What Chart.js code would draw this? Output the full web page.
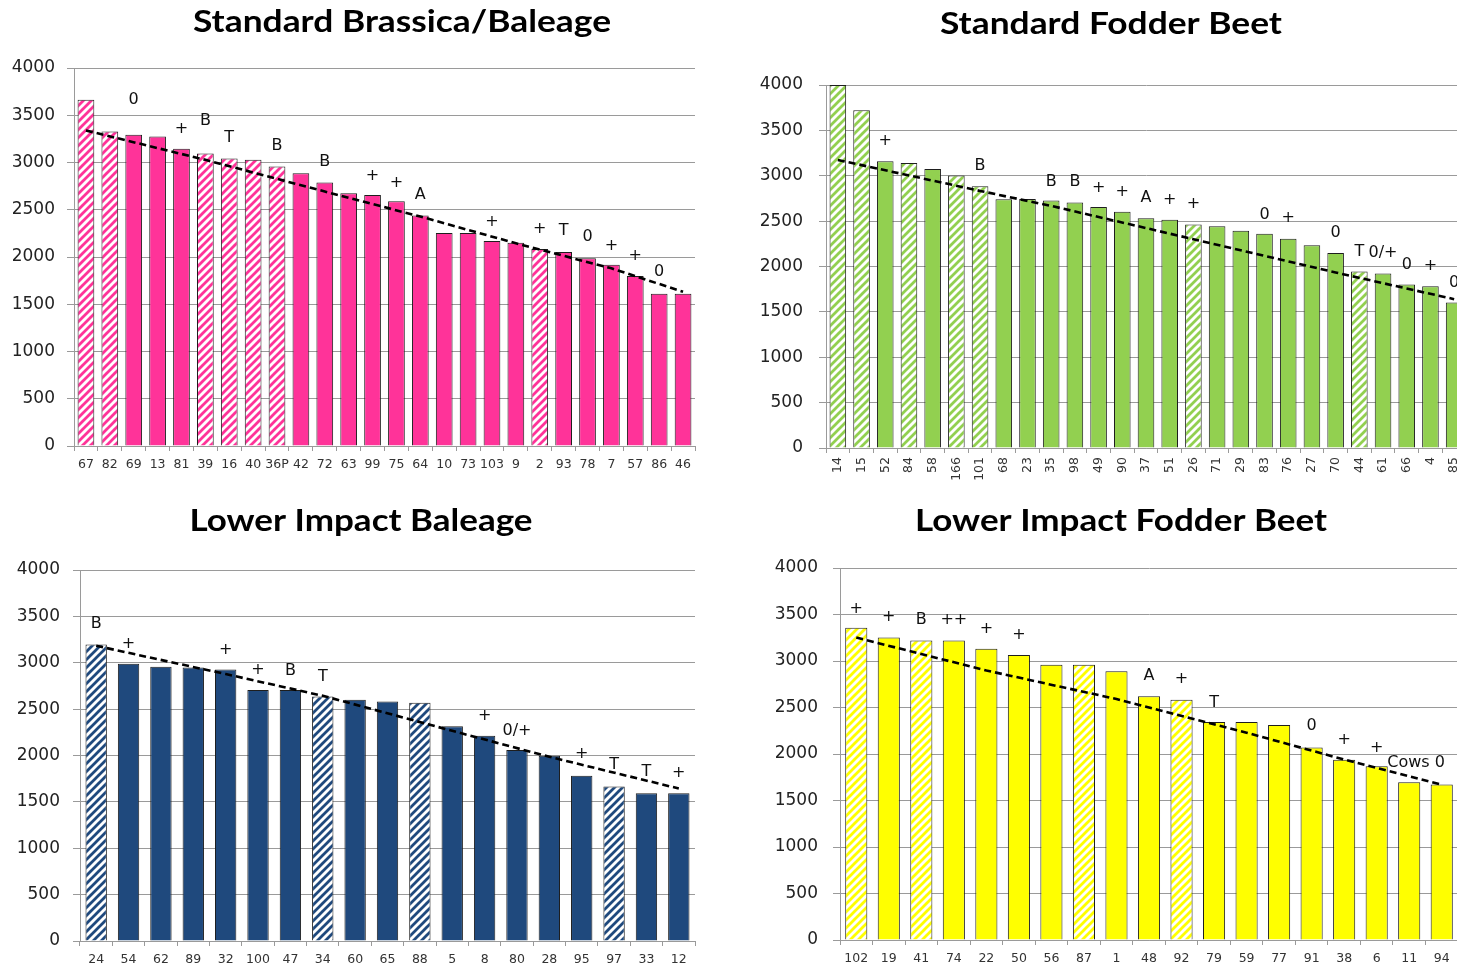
<!DOCTYPE html>
<html><head><meta charset="utf-8">
<script src="https://cdn.jsdelivr.net/npm/chart.js@4.4.1/dist/chart.umd.min.js"></script>
<style>
html,body{margin:0;padding:0;background:#fff;overflow:hidden;width:1457px;height:971px;position:relative;}
canvas{position:absolute;}
</style></head><body>
<canvas id="c1" width="710" height="480" style="left:0;top:0"></canvas>
<canvas id="c2" width="740" height="490" style="left:740px;top:0"></canvas>
<canvas id="c3" width="710" height="481" style="left:0;top:490px"></canvas>
<canvas id="c4" width="740" height="481" style="left:740px;top:490px"></canvas>
<script>
// ---------- Standard Brassica/Baleage ----------
const brassicaLabels = ['67','82','69','13','81','39','16','40','36P','42','72','63','99','75','64','10','73','103','9','2','93','78','7','57','86','46'];
const brassicaValues = [3664,3328,3293,3275,3145,3095,3042,3028,2957,2887,2788,2675,2657,2590,2438,2254,2254,2170,2152,2085,2053,1986,1918,1799,1611,1611];
const brassicaHatched = ['67','82','39','16','40','36P','2'];
const brassicaTrendAt = ['67','39','72','64','9','7','46'];
const brassicaTrendValues = [3339,3028,2693,2428,2145,1880,1632];
const brassicaNoteAt = ['69','81','39','16','36P','72','99','75','64','103','2','93','78','7','57','86'];
const brassicaNoteText = ['0','+','B','T','B','B','+','+','A','+','+','T','0','+','+','0'];
const brassicaNoteValues = [3665,3357,3440,3264,3176,3010,2858,2788,2657,2368,2297,2279,2209,2117,2011,1838];

// ---------- Standard Fodder Beet ----------
const beetLabels = ['14','15','52','84','58','166','101','68','23','35','98','49','90','37','51','26','71','29','83','76','27','70','44','61','66','4','85'];
const beetValues = [4000,3721,3160,3141,3075,3002,2884,2741,2745,2727,2705,2657,2602,2532,2514,2462,2444,2393,2360,2305,2235,2150,1945,1923,1802,1783,1604];
const beetHatched = ['14','15','84','166','101','26','44'];
const beetTrendAt = ['14','101','35','26','70','85'];
const beetTrendValues = [3174,2833,2668,2301,1934,1640];
const beetNoteAt = ['52','101','35','98','49','90','37','51','26','83','76','70','44','61','66','4','85'];
const beetNoteText = ['+','B','B','B','+','+','A','+','+','0','+','0','T','0/+','0','+','0'];
const beetNoteValues = [3383,3108,2936,2936,2862,2826,2760,2734,2686,2569,2532,2374,2165,2150,2018,2007,1824];

// ---------- Lower Impact Baleage ----------
const lowBaleLabels = ['24','54','62','89','32','100','47','34','60','65','88','5','8','80','28','95','97','33','12'];
const lowBaleValues = [3198,2989,2957,2950,2928,2705,2705,2637,2601,2583,2568,2316,2212,2058,1996,1781,1665,1593,1593];
const lowBaleHatched = ['24','34','88','97'];
const lowBaleTrendAt = ['24','32','34','5','28','12'];
const lowBaleTrendValues = [3183,2878,2644,2266,1986,1644];
const lowBaleNoteAt = ['24','54','32','100','47','34','8','80','95','97','33','12'];
const lowBaleNoteText = ['B','+','+','+','B','T','+','0/+','+','T','T','+'];
const lowBaleNoteValues = [3417,3209,3137,2921,2914,2852,2428,2266,2014,1899,1827,1816];

// ---------- Lower Impact Fodder Beet ----------
const lowBeetLabels = ['102','19','41','74','22','50','56','87','1','48','92','79','59','77','91','38','6','11','94'];
const lowBeetValues = [3357,3252,3220,3220,3133,3064,2959,2959,2891,2620,2584,2345,2345,2313,2070,1937,1868,1695,1673];
const lowBeetHatched = ['102','41','87','92'];
const lowBeetTrendAt = ['102','22','1','59','38','94'];
const lowBeetTrendValues = [3252,2898,2591,2229,1940,1669];
const lowBeetNoteAt = ['102','19','41','74','22','50','48','92','79','91','38','6','11'];
const lowBeetNoteText = ['+','+','B','++','+','+','A','+','T','0','+','+','Cows 0'];
const lowBeetNoteValues = [3559,3476,3440,3440,3342,3285,2837,2808,2555,2302,2150,2067,1904];

const yTicks = {min:0, max:4000, step:500};

// ---------- helpers ----------
function hatch(color){
  const s=8, c=document.createElement('canvas'); c.width=s; c.height=s;
  const g=c.getContext('2d');
  g.fillStyle='#fff'; g.fillRect(0,0,s,s);
  g.strokeStyle=color; g.lineWidth=2.8; g.lineCap='square';
  g.beginPath();
  g.moveTo(-2,s+2); g.lineTo(s+2,-2);
  g.moveTo(-2,2); g.lineTo(2,-2);
  g.moveTo(s-2,s+2); g.lineTo(s+2,s-2);
  g.stroke();
  return g.createPattern(c,'repeat');
}

const notePlugin = {
  id:'notes',
  afterDatasetsDraw(chart){
    const o = chart.options.plugins.notes; if(!o) return;
    const {ctx} = chart, xs = chart.scales.x, ys = chart.scales.y;
    ctx.save();
    ctx.fillStyle='#111'; ctx.font = o.font; ctx.textBaseline='middle';
    o.at.forEach((lab,i)=>{
      const idx = chart.data.labels.indexOf(lab);
      const x = xs.getPixelForValue(idx);
      const y = ys.getPixelForValue(o.values[i]);
      const st = (o.style||{})[o.text[i]] || {};
      ctx.textAlign = st.align || 'center';
      ctx.fillText(o.text[i], x + (st.dx||0), y);
    });
    ctx.restore();
  }
};

const titlePlugin = {
  id:'fittedTitle',
  afterDraw(chart){
    const o = chart.options.plugins.fittedTitle; if(!o) return;
    const ctx = chart.ctx;
    ctx.save();
    ctx.font = o.font; ctx.fillStyle='#000';
    ctx.textAlign='center'; ctx.textBaseline='middle';
    const w = ctx.measureText(o.text).width;
    ctx.translate(o.cx, o.cy);
    ctx.scale(o.width / w, 1);
    ctx.fillText(o.text, 0, 0);
    ctx.restore();
  }
};

function makeChart(id, d, L){
  const ctx = document.getElementById(id).getContext('2d');
  const solid = d.color, pat = hatch(d.color);
  const bg = d.labels.map(l => d.hatched.includes(l) ? pat : solid);
  const trend = d.labels.map(l => { const k = d.trendAt.indexOf(l); return k<0 ? null : d.trendValues[k]; });
  return new Chart(ctx, {
    type:'bar',
    data:{labels:d.labels, datasets:[
      {type:'line', data:trend, borderColor:'#000', borderWidth:2.6, borderDash:[7,4], pointRadius:0, spanGaps:true, fill:false, tension:0, order:0},
      {type:'bar', data:d.values, backgroundColor:bg, borderColor:'#1e1e1e', borderWidth:1, barPercentage:L.bar, categoryPercentage:1, order:1}
    ]},
    options:{
      responsive:false, animation:false, events:[],
      layout:{padding:{top:L.padTop, right:L.padRight, left:0, bottom:0}},
      plugins:{
        legend:{display:false}, tooltip:{enabled:false}, title:{display:false},
        notes:{at:d.noteAt, text:d.noteText, values:d.noteValues, font:'16px "DejaVu Sans"', style:{'Cows 0':{align:'left', dx:-22}}},
        fittedTitle:{text:d.title, font:'bold 31px Lato', cx:L.titleX, cy:L.titleY, width:L.titleW}
      },
      scales:{
        x:{
          grid:{display:true, drawOnChartArea:false, drawTicks:true, tickLength:5, color:'#9a9a9a', offset:true},
          border:{color:'#9a9a9a'},
          ticks:{autoSkip:false, maxRotation:L.rot, minRotation:L.rot, font:{family:'DejaVu Sans', size:12.5}, color:'#333', padding:L.xPad},
          afterFit(s){ s.height = L.xH; }
        },
        y:{
          min:yTicks.min, max:yTicks.max,
          ticks:{stepSize:yTicks.step, font:{family:'DejaVu Sans', size:17}, color:'#222', padding:L.yPad,
                 callback:(v)=>String(v)},
          grid:{color:'#9a9a9a', tickLength:7, lineWidth:1},
          border:{color:'#9a9a9a'},
          afterFit(s){ s.width = L.yW; }
        }
      }
    },
    plugins:[notePlugin, titlePlugin]
  });
}

const pink='#FF3399', green='#92D050', navy='#1F497D', yellow='#FFFF00';

makeChart('c1', {title:'Standard Brassica/Baleage', color:pink, labels:brassicaLabels, values:brassicaValues, hatched:brassicaHatched,
  trendAt:brassicaTrendAt, trendValues:brassicaTrendValues, noteAt:brassicaNoteAt, noteText:brassicaNoteText, noteValues:brassicaNoteValues},
  {padTop:68, padRight:15, yW:74, xH:34, yPad:12, xPad:6, rot:0, bar:0.7, titleX:402, titleY:22, titleW:418});

makeChart('c2', {title:'Standard Fodder Beet', color:green, labels:beetLabels, values:beetValues, hatched:beetHatched,
  trendAt:beetTrendAt, trendValues:beetTrendValues, noteAt:beetNoteAt, noteText:beetNoteText, noteValues:beetNoteValues},
  {padTop:85, padRight:14, yW:86, xH:42, yPad:16, xPad:4, rot:90, bar:0.7, titleX:1111-740, titleY:24, titleW:342});

makeChart('c3', {title:'Lower Impact Baleage', color:navy, labels:lowBaleLabels, values:lowBaleValues, hatched:lowBaleHatched,
  trendAt:lowBaleTrendAt, trendValues:lowBaleTrendValues, noteAt:lowBaleNoteAt, noteText:lowBaleNoteText, noteValues:lowBaleNoteValues},
  {padTop:80, padRight:15, yW:80, xH:30, yPad:13, xPad:6, rot:0, bar:0.66, titleX:361, titleY:31, titleW:343});

makeChart('c4', {title:'Lower Impact Fodder Beet', color:yellow, labels:lowBeetLabels, values:lowBeetValues, hatched:lowBeetHatched,
  trendAt:lowBeetTrendAt, trendValues:lowBeetTrendValues, noteAt:lowBeetNoteAt, noteText:lowBeetNoteText, noteValues:lowBeetNoteValues},
  {padTop:78, padRight:22, yW:100, xH:31, yPad:15, xPad:6, rot:0, bar:0.68, titleX:1121-740, titleY:31, titleW:412});
</script>
</body></html>
